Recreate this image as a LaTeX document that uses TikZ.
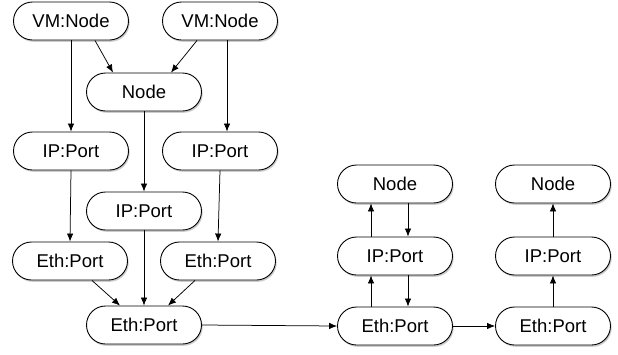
\documentclass[tikz,border=0pt]{standalone}
\usepackage{fontspec}
\setmainfont{Liberation Sans}
\usepackage{tikz}
\usetikzlibrary{arrows.meta,positioning,shapes.misc,shadows}

\begin{document}
\begin{tikzpicture}[
  x=1pt, y=-1pt,
  box/.style={rounded rectangle, draw, line width=0.9pt, fill=white, minimum width=115pt, minimum height=38pt,
    inner sep=0pt, font=\fontsize{18.5}{20}\selectfont,
    drop shadow={shadow xshift=1.2pt, shadow yshift=-1.8pt, opacity=0.4}},
  arr/.style={-{Latex[length=8pt,width=6.5pt]}, line width=0.75pt}
]
  \useasboundingbox (0,0) rectangle (618,354);

  \node[box] (vm1) at (71,21) {VM:Node};
  \node[box] (vm2) at (220,21) {VM:Node};
  \node[box] (n) at (144,92) {Node};

  \node[box] (ip1) at (71,151) {IP:Port};
  \node[box] (ip2) at (220,151) {IP:Port};
  \node[box] (ipm) at (144,211) {IP:Port};

  \node[box] (e1) at (70,261) {Eth:Port};
  \node[box] (e2) at (218,261) {Eth:Port};
  \node[box] (eb) at (144,325) {Eth:Port};

  \node[box] (rn1) at (395,184) {Node};
  \node[box] (rip1) at (395,256) {IP:Port};
  \node[box] (re1) at (395,326) {Eth:Port};

  \node[box] (rn2) at (553,184) {Node};
  \node[box] (rip2) at (553,256) {IP:Port};
  \node[box] (re2) at (553,326) {Eth:Port};

  \draw[arr] (vm1.south) -- (ip1.north);
  \draw[arr] ([xshift=24pt]vm1.south) -- ([xshift=-31pt]n.north);
  \draw[arr] ([xshift=-23pt]vm2.south) -- ([xshift=27pt]n.north);
  \draw[arr] ([xshift=7pt]vm2.south) -- ([xshift=7pt]ip2.north);

  \draw[arr] (n.south) -- (ipm.north);
  \draw[arr] (ip1.south) -- (e1.north);
  \draw[arr] (ip2.south) -- (e2.north);

  \draw[arr] ([xshift=22pt]e1.south) -- ([xshift=-24pt]eb.north);
  \draw[arr] (ipm.south) -- (eb.north);
  \draw[arr] ([xshift=-23pt]e2.south) -- ([xshift=24pt]eb.north);

  \draw[arr] (eb.east) -- (re1.west);
  \draw[arr] (re1.east) -- (re2.west);

  \draw[arr] ([xshift=-24pt]rip1.north) -- ([xshift=-24pt]rn1.south);
  \draw[arr] ([xshift=13pt]rn1.south) -- ([xshift=13pt]rip1.north);
  \draw[arr] ([xshift=-24pt]re1.north) -- ([xshift=-24pt]rip1.south);
  \draw[arr] ([xshift=13pt]rip1.south) -- ([xshift=13pt]re1.north);

  \draw[arr] (re2.north) -- (rip2.south);
  \draw[arr] (rip2.north) -- (rn2.south);
\end{tikzpicture}
\end{document}
